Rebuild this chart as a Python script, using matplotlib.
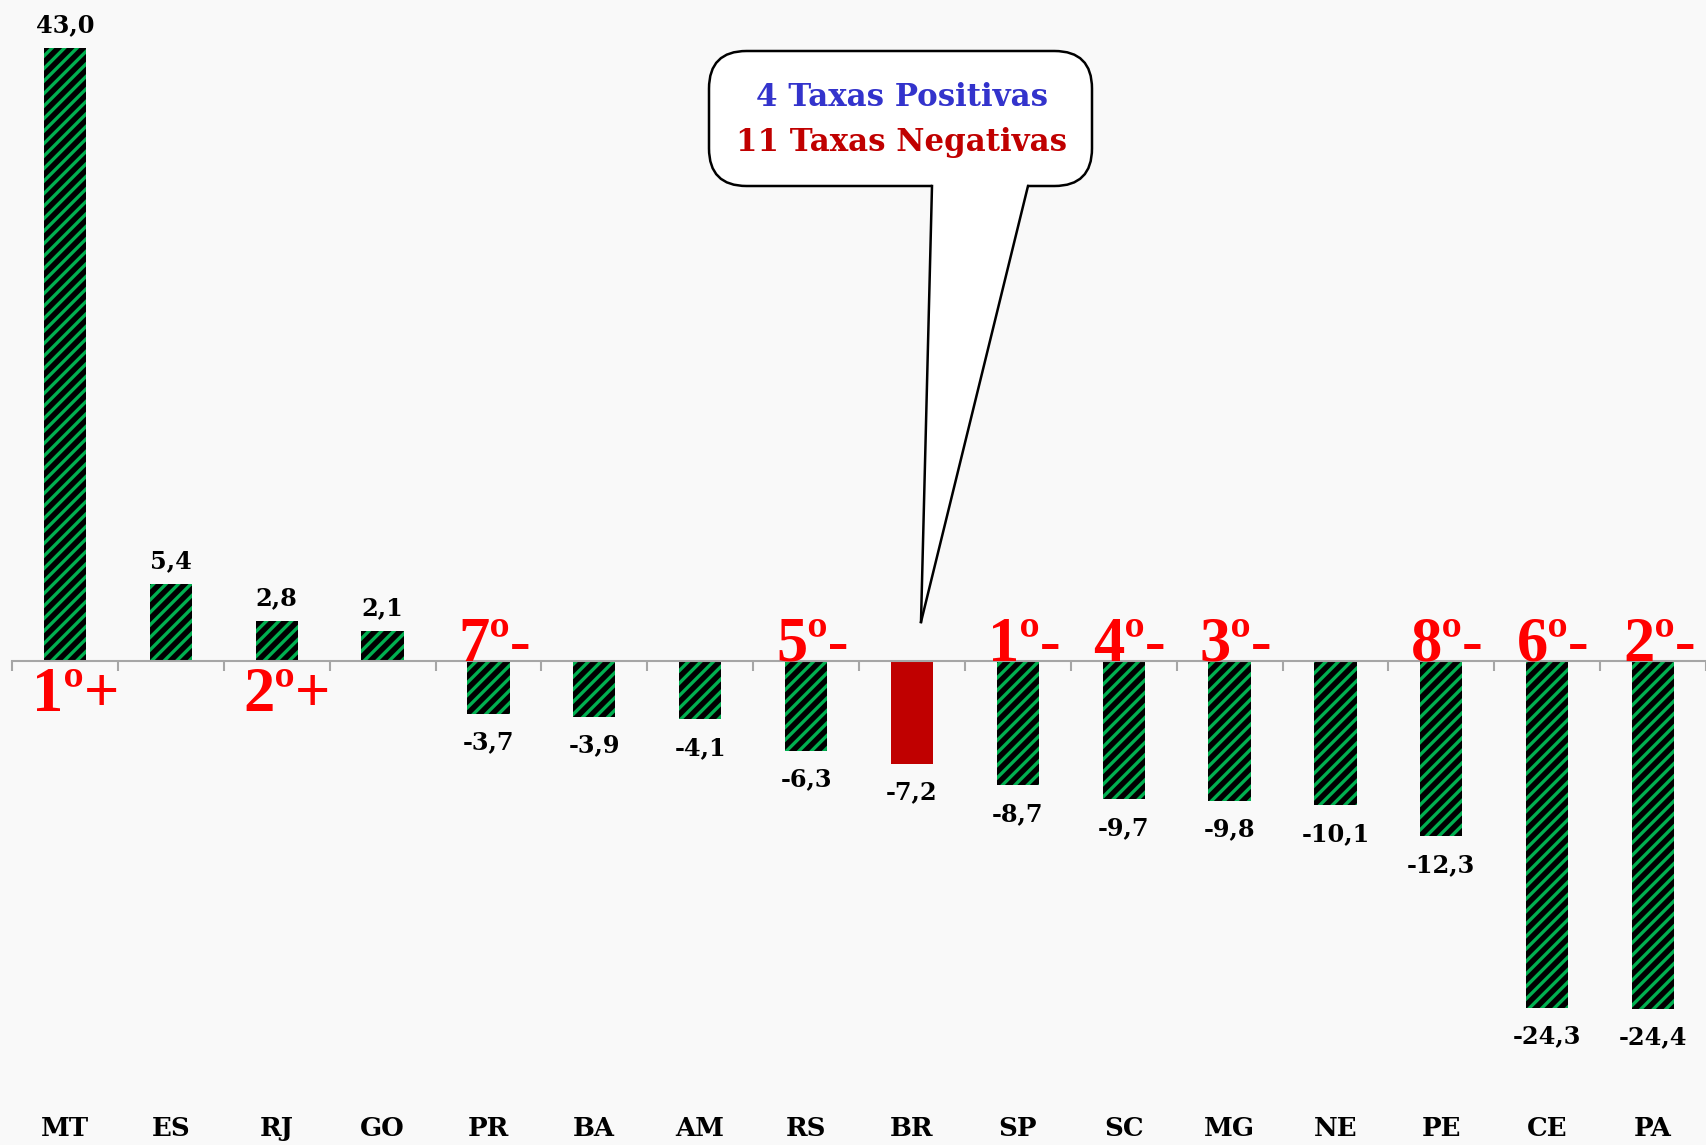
import matplotlib
matplotlib.use("Agg")
import matplotlib.pyplot as plt
from matplotlib.patches import FancyBboxPatch, Polygon
from matplotlib.lines import Line2D

estados = ["MT", "ES", "RJ", "GO", "PR", "BA", "AM", "RS", "BR", "SP", "SC", "MG", "NE", "PE", "CE", "PA"]
taxas = [43.0, 5.4, 2.8, 2.1, -3.7, -3.9, -4.1, -6.3, -7.2, -8.7, -9.7, -9.8, -10.1, -12.3, -24.3, -24.4]
rankings = {"MT": "1º+", "RJ": "2º+", "PR": "7º-", "RS": "5º-", "SP": "1º-",
            "SC": "4º-", "MG": "3º-", "PE": "8º-", "CE": "6º-", "PA": "2º-"}

bg = "#f9f9f9"
verde = "#00b050"
vermelho = "#c00000"

plt.rcParams["hatch.linewidth"] = 1.6

fig = plt.figure(figsize=(1706 / 150, 1145 / 150), dpi=150, facecolor=bg)
ax = fig.add_axes([12 / 1706, 0, 1 - 12 / 1706, 1])
ax.set_facecolor(bg)

for i, (uf, v) in enumerate(zip(estados, taxas)):
    if uf == "BR":
        ax.bar(i, v, width=0.4, color=vermelho, linewidth=0, zorder=2)
    else:
        ax.bar(i, v, width=0.4, facecolor="black", edgecolor=verde, linewidth=0,
               hatch="////", zorder=2)
    txt = ("%.1f" % v).replace(".", ",")
    if v >= 0:
        ax.annotate(txt, (i, v), xytext=(0, 5), textcoords="offset points",
                    ha="center", va="bottom", fontsize=11.5, fontweight="bold",
                    family="DejaVu Serif")
    else:
        ax.annotate(txt, (i, v), xytext=(0, -8), textcoords="offset points",
                    ha="center", va="top", fontsize=11.5, fontweight="bold",
                    family="DejaVu Serif")
    ax.text(i, 0.014, uf, transform=ax.get_xaxis_transform(), ha="center",
            va="center", fontsize=12.5, fontweight="bold", family="DejaVu Serif")
    if uf in rankings:
        if v >= 0:
            ax.annotate(rankings[uf], (i, 0), xytext=(5, -3), textcoords="offset points",
                        ha="center", va="top", fontsize=30, fontweight="bold",
                        color="#ff0000", family="Liberation Serif")
        else:
            ax.annotate(rankings[uf], (i, 0), xytext=(3, 0), textcoords="offset points",
                        ha="center", va="baseline", fontsize=30, fontweight="bold",
                        color="#ff0000", family="Liberation Serif", zorder=3)

ax.set_xlim(-0.5, len(estados) - 0.5)
ax.set_ylim(-33.94, 46.35)
for s in ["top", "right", "left"]:
    ax.spines[s].set_visible(False)
ax.spines["bottom"].set_position(("data", 0))
ax.spines["bottom"].set_color("#a6a6a6")
ax.spines["bottom"].set_linewidth(1.0)
ax.set_xticks([i - 0.5 for i in range(len(estados) + 1)])
ax.set_xticklabels([])
ax.tick_params(axis="x", length=5, width=1.0, color="#a6a6a6", direction="out")
ax.set_yticks([])

# balão de texto
W, H = 1706, 1145
def fc(px, py):
    return (px / W, 1 - py / H)

x0, y0 = fc(709, 186)
x1, y1 = fc(1092, 51)
caixa = FancyBboxPatch((x0, y0), x1 - x0, y1 - y0,
                       boxstyle="round,pad=0,rounding_size=0.022",
                       transform=fig.transFigure, facecolor="white",
                       edgecolor="black", linewidth=1.2, zorder=5,
                       mutation_aspect=W / H)
fig.patches.append(caixa)
b1 = fc(932, 186)
b2 = fc(1028, 186)
tip = fc(921, 622)
cauda = Polygon([fc(932, 184), b1, tip, b2, fc(1028, 184)], closed=True,
                transform=fig.transFigure, facecolor="white", edgecolor="none", zorder=6)
fig.patches.append(cauda)
fig.lines.append(Line2D([b1[0], tip[0]], [b1[1], tip[1]], transform=fig.transFigure,
                        color="black", linewidth=1.2, zorder=7))
fig.lines.append(Line2D([b2[0], tip[0]], [b2[1], tip[1]], transform=fig.transFigure,
                        color="black", linewidth=1.2, zorder=7))

fig.text(902 / W, 1 - 98 / H, "4 Taxas Positivas", ha="center", va="center",
         fontsize=14.8, fontweight="bold", color="#3333cc", family="DejaVu Serif", zorder=8)
fig.text(902 / W, 1 - 143 / H, "11 Taxas Negativas", ha="center", va="center",
         fontsize=14.8, fontweight="bold", color=vermelho, family="DejaVu Serif", zorder=8)

fig.savefig("out.png", dpi=150, facecolor=bg)
